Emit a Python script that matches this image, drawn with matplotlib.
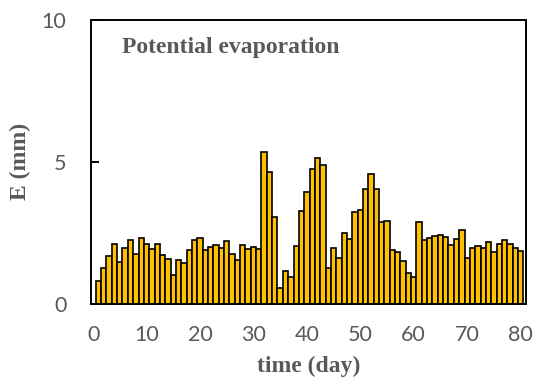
# Potential evaporation bar chart
import numpy as np
import matplotlib.pyplot as plt

# daily values, days 1..80
days = np.arange(1, 81)
evap = [0.81, 1.27, 1.70, 2.11, 1.49, 1.98, 2.25, 1.76, 2.31, 2.11,
        1.95, 2.10, 1.73, 1.58, 1.01, 1.53, 1.43, 1.91, 2.26, 2.33,
        1.89, 2.00, 2.09, 1.96, 2.22, 1.77, 1.53, 2.07, 1.92, 2.00,
        1.93, 5.35, 4.63, 3.07, 0.56, 1.15, 0.96, 2.04, 3.26, 3.95,
        4.74, 5.14, 4.88, 1.26, 1.96, 1.60, 2.48, 2.27, 3.22, 3.29,
        4.03, 4.57, 4.04, 2.88, 2.92, 1.90, 1.84, 1.51, 1.08, 0.94,
        2.89, 2.25, 2.31, 2.39, 2.41, 2.34, 2.08, 2.30, 2.59, 1.60,
        1.96, 2.04, 1.96, 2.19, 1.84, 2.11, 2.26, 2.11, 1.96, 1.87]
xticks = [0, 10, 20, 30, 40, 50, 60, 70, 80]
yticks = [0, 5, 10]

gray = '#595959'

fig = plt.figure(figsize=(5.36, 3.81), dpi=100)
ax = fig.add_axes([0.1707, 0.2021, 0.8106, 0.7467])

ax.bar(days, evap, width=1.0, color='#FFC000', edgecolor='black', linewidth=1.2)

ax.set_xlim(-0.3, 81.0)
ax.set_ylim(0, 10)
ax.set_xticks(xticks)
ax.set_yticks(yticks)

for s in ax.spines.values():
    s.set_linewidth(1.4)
    s.set_color('black')

ax.tick_params(axis='y', direction='in', length=6, width=1.4, pad=18,
               labelsize=15.5, labelcolor=gray)
ax.tick_params(axis='x', length=0, pad=15, labelsize=15.5, labelcolor=gray)
for lab in ax.get_xticklabels() + ax.get_yticklabels():
    lab.set_family('Lato')

ax.set_xlabel('time (day)', family='Liberation Serif', fontweight='bold',
              fontsize=17, color=gray, labelpad=8)
ax.set_ylabel('E (mm)', family='Liberation Serif', fontweight='bold',
              fontsize=17, color=gray, labelpad=8)

ax.text(0.07, 0.903, 'Potential evaporation', transform=ax.transAxes,
        family='Liberation Serif', fontweight='bold', fontsize=17,
        color=gray, va='center', ha='left')

plt.savefig('out.png', dpi=100)
